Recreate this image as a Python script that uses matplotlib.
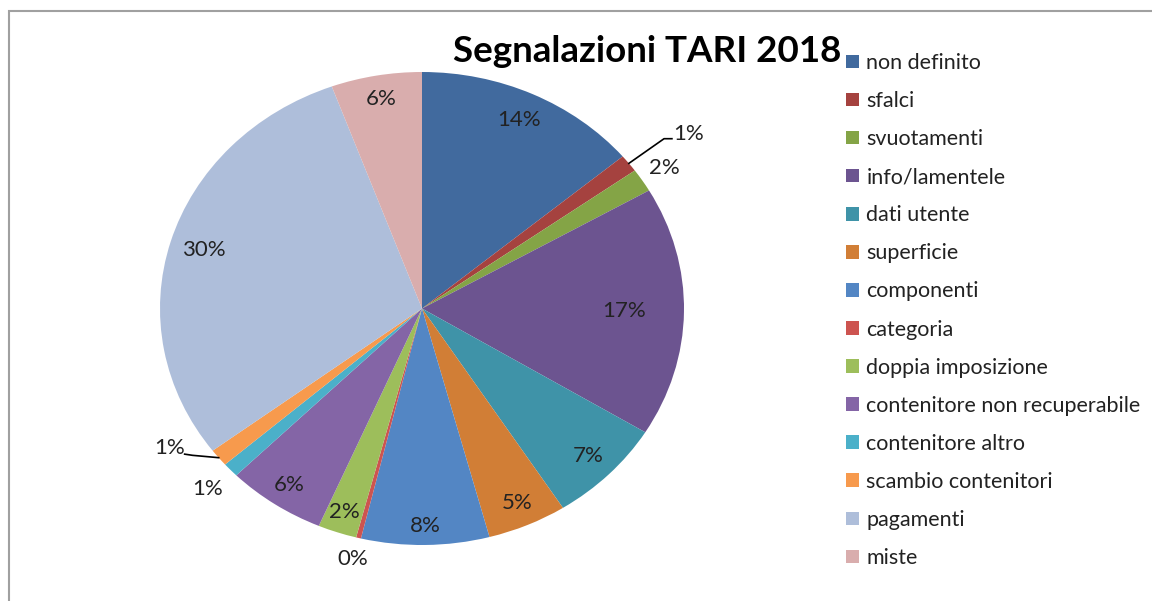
import numpy as np
import matplotlib
matplotlib.use('Agg')
from matplotlib import pyplot as plt
from matplotlib.patches import Rectangle

plt.rcParams['font.family'] = ['Lato', 'DejaVu Sans']

# data (share of reports, %)
categories = ['non definito', 'sfalci', 'svuotamenti', 'info/lamentele', 'dati utente',
              'superficie', 'componenti', 'categoria', 'doppia imposizione',
              'contenitore non recuperabile', 'contenitore altro', 'scambio contenitori',
              'pagamenti', 'miste']
shares = [13.9, 1.2, 1.6, 17.1, 7.2, 4.9, 7.9, 0.3, 2.4, 6.1, 1.0, 1.2, 29.7, 5.6]
colors = ['#416A9E', '#A5423F', '#84A446', '#6C5490', '#3F93A8', '#D17E36',
          '#5386C4', '#CD5450', '#9DBE5B', '#8465A6', '#4BB0C9', '#F79A4D',
          '#AEBEDA', '#D9ADAD']

# label layout: radius of each percent label, and which ones get a leader line
label_r = [0.88, 1.10, 1.10, 0.77, 0.89, 0.90, 0.92, 1.09, 0.91, 0.90, 1.12, 1.12, 0.87, 0.90]
leader = {1: 'right', 11: 'left'}

fig = plt.figure(figsize=(11.52, 6.01), dpi=100)
ax = fig.add_axes([160/1152, 56/601, 524/1152, 473/601])

wedges, _ = ax.pie(shares, colors=colors, startangle=90, counterclock=False,
                   wedgeprops=dict(linewidth=0))
ax.set_aspect('auto')
ax.set_xlim(-1, 1)
ax.set_ylim(-1, 1)

fs = 16
for i, w in enumerate(wedges):
    a = np.deg2rad((w.theta1 + w.theta2) / 2)
    txt = '%.0f%%' % shares[i]
    ex, ey = np.cos(a), np.sin(a)
    if leader.get(i) == 'right':
        kx, ky = 1.17 * np.cos(a), 1.17 * np.sin(a)
        ax.plot([ex, kx, kx + 0.03], [ey, ky, ky], color='black', lw=1.2)
        ax.text(kx + 0.035, ky + 0.02, txt, ha='left', va='center', fontsize=fs, color='#222222')
    elif leader.get(i) == 'left':
        kx, ky = ex - 0.1, ey + 0.01
        ax.plot([ex, kx, kx - 0.03], [ey, ky, ky + 0.005], color='black', lw=1.2)
        ax.text(kx - 0.03, ky + 0.03, txt, ha='right', va='center', fontsize=fs, color='#222222')
    else:
        r = label_r[i]
        ax.text(r * np.cos(a), r * np.sin(a), txt, ha='center', va='center',
                fontsize=fs, color='#222222')

fig.text(647/1152, 1 - 51/601, 'Segnalazioni TARI 2018', ha='center', va='center',
         fontsize=26.5, fontweight='bold')

fig.legend(wedges, categories, loc='upper left', bbox_to_anchor=(846/1152, 1 - 53/601),
           frameon=False, fontsize=15.5, handlelength=0.6, handleheight=0.6,
           handletextpad=0.35, labelspacing=0.84, borderpad=0, borderaxespad=0,
           labelcolor='#222222')

fig.add_artist(Rectangle((9/1152, -0.1), 2, 1 - 11/601 + 0.1, transform=fig.transFigure,
                         fill=False, edgecolor='#A0A0A0', lw=1.5))

fig.savefig('out.png', dpi=100)
